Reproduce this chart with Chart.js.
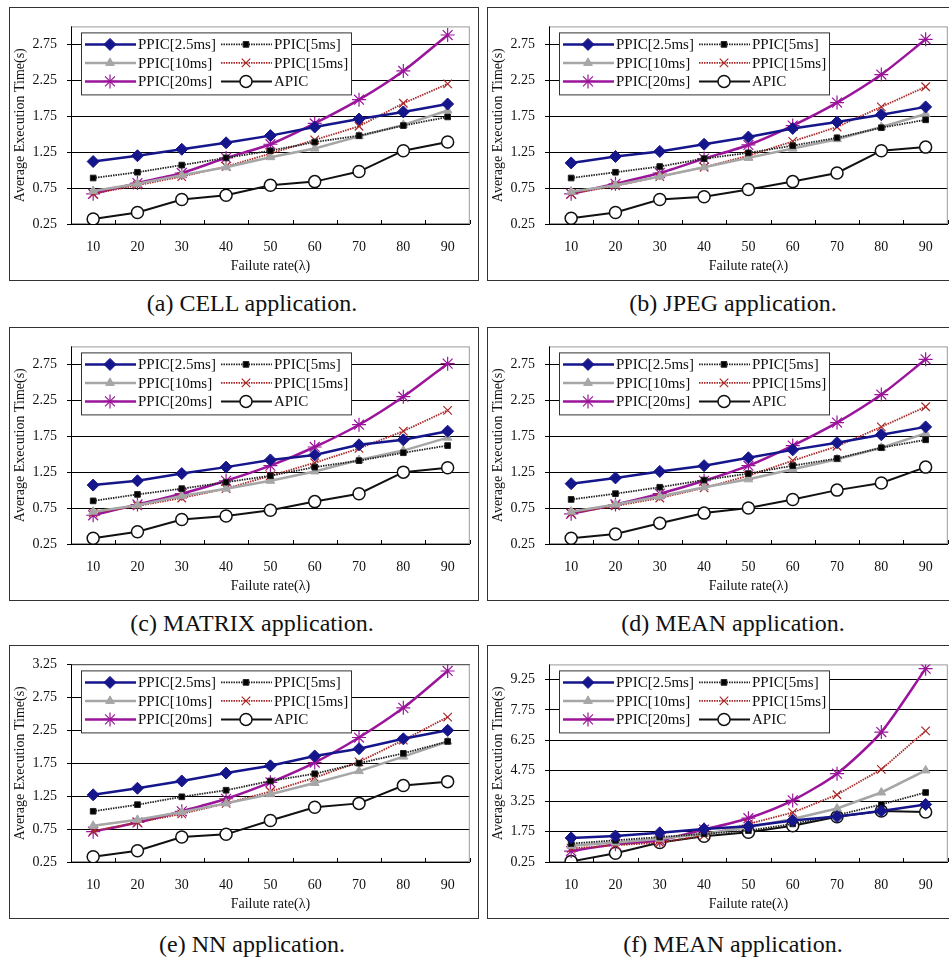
<!DOCTYPE html>
<html>
<head>
<meta charset="utf-8">
<script src="https://cdn.jsdelivr.net/npm/chart.js@4.4.1/dist/chart.umd.min.js"></script>
<style>
  body { margin: 0; background: #fff; width: 949px; height: 958px; overflow: hidden; position: relative; font-family: "Liberation Serif", serif; }
  .panel { position: absolute; border: 1px solid #333; box-sizing: border-box; width: 470px; height: 274px; background: #fff; }
  .panel canvas { position: absolute; left: 0; top: 0; }
  .cap { position: absolute; width: 480px; text-align: center; font-size: 24px; line-height: 24px; color: #111; white-space: nowrap; }
</style>
</head>
<body>
<script>
// categories and legend names
const categories = ["10", "20", "30", "40", "50", "60", "70", "80", "90"];
const seriesNames = ["PPIC[2.5ms]", "PPIC[5ms]", "PPIC[10ms]", "PPIC[15ms]", "PPIC[20ms]", "APIC"];

// y tick labels
const ticksLow = [0.25, 0.75, 1.25, 1.75, 2.25, 2.75];
const ticksNN = [0.25, 0.75, 1.25, 1.75, 2.25, 2.75, 3.25];
const ticksMean2 = [0.25, 1.75, 3.25, 4.75, 6.25, 7.75, 9.25];

// (a) CELL
const cell25 = [1.12, 1.2, 1.29, 1.38, 1.48, 1.6, 1.71, 1.81, 1.92];
const cell5 = [0.89, 0.97, 1.07, 1.17, 1.27, 1.39, 1.48, 1.62, 1.74];
const cell10 = [0.71, 0.81, 0.93, 1.04, 1.18, 1.3, 1.47, 1.63, 1.83];
const cell15 = [0.67, 0.79, 0.91, 1.05, 1.23, 1.42, 1.61, 1.93, 2.2];
const cell20 = [0.67, 0.82, 0.96, 1.17, 1.36, 1.65, 1.98, 2.38, 2.88];
const cellApic = [0.32, 0.41, 0.59, 0.65, 0.79, 0.84, 0.98, 1.27, 1.39];

// (b) JPEG
const jpeg25 = [1.1, 1.19, 1.26, 1.36, 1.46, 1.58, 1.67, 1.77, 1.88];
const jpeg5 = [0.89, 0.97, 1.05, 1.16, 1.24, 1.34, 1.45, 1.59, 1.7];
const jpeg10 = [0.7, 0.79, 0.91, 1.04, 1.17, 1.3, 1.43, 1.6, 1.78];
const jpeg15 = [0.67, 0.78, 0.91, 1.04, 1.2, 1.4, 1.6, 1.88, 2.16];
const jpeg20 = [0.67, 0.81, 0.96, 1.16, 1.35, 1.62, 1.94, 2.33, 2.82];
const jpegApic = [0.33, 0.41, 0.59, 0.63, 0.73, 0.84, 0.96, 1.27, 1.32];

// (c) MATRIX
const matrix25 = [1.07, 1.13, 1.23, 1.32, 1.42, 1.49, 1.63, 1.7, 1.82];
const matrix5 = [0.85, 0.94, 1.02, 1.11, 1.2, 1.32, 1.41, 1.52, 1.62];
const matrix10 = [0.7, 0.79, 0.92, 1.02, 1.13, 1.26, 1.42, 1.55, 1.73];
const matrix15 = [0.68, 0.78, 0.89, 1.02, 1.2, 1.38, 1.58, 1.82, 2.11];
const matrix20 = [0.65, 0.8, 0.95, 1.13, 1.34, 1.6, 1.91, 2.3, 2.76];
const matrixApic = [0.33, 0.42, 0.59, 0.64, 0.72, 0.84, 0.95, 1.25, 1.31];

// (d) MEAN
const mean25 = [1.09, 1.17, 1.26, 1.34, 1.45, 1.56, 1.66, 1.77, 1.88];
const mean5 = [0.87, 0.95, 1.04, 1.14, 1.23, 1.34, 1.44, 1.59, 1.7];
const mean10 = [0.7, 0.8, 0.91, 1.04, 1.15, 1.29, 1.43, 1.59, 1.79];
const mean15 = [0.68, 0.78, 0.89, 1.03, 1.2, 1.41, 1.61, 1.88, 2.16];
const mean20 = [0.67, 0.8, 0.95, 1.13, 1.34, 1.62, 1.94, 2.33, 2.82];
const meanApic = [0.33, 0.39, 0.54, 0.68, 0.75, 0.87, 1.0, 1.1, 1.32];

// (e) NN
const nn25 = [1.27, 1.37, 1.48, 1.6, 1.71, 1.86, 1.97, 2.12, 2.25];
const nn5 = [1.02, 1.12, 1.24, 1.34, 1.48, 1.59, 1.75, 1.9, 2.08];
const nn10 = [0.8, 0.89, 1.01, 1.14, 1.28, 1.45, 1.63, 1.85, 2.08];
const nn15 = [0.72, 0.85, 0.98, 1.14, 1.32, 1.53, 1.77, 2.1, 2.45];
const nn20 = [0.71, 0.85, 1.02, 1.21, 1.46, 1.76, 2.14, 2.59, 3.15];
const nnApic = [0.33, 0.42, 0.63, 0.67, 0.88, 1.08, 1.14, 1.41, 1.47];

// (f) MEAN
const meanB25 = [1.44, 1.53, 1.69, 1.88, 2.01, 2.3, 2.49, 2.77, 3.09];
const meanB5 = [1.16, 1.32, 1.48, 1.64, 1.8, 2.13, 2.56, 3.09, 3.68];
const meanB10 = [1.05, 1.21, 1.4, 1.64, 1.96, 2.37, 2.89, 3.68, 4.77];
const meanB15 = [0.92, 1.08, 1.2, 1.56, 2.13, 2.69, 3.57, 4.82, 6.72];
const meanB20 = [0.79, 1.12, 1.32, 1.85, 2.41, 3.29, 4.61, 6.66, 9.79];
const meanBApic = [0.28, 0.68, 1.21, 1.52, 1.72, 2.04, 2.48, 2.77, 2.72];

const FONT = "Liberation Serif";

const styles = [
  { color: "#16168c", width: 2.5, dash: [], point: "rectRot", r: 6, fill: "#16168c", bw: 1 },
  { color: "#222222", width: 1.8, dash: [1.5, 1], point: "rect", r: 4, fill: "#000000", bw: 1 },
  { color: "#a6a6a6", width: 2.5, dash: [], point: "triangle", r: 5, fill: "#a6a6a6", bw: 1 },
  { color: "#a82828", width: 1.8, dash: [1.5, 1], point: "crossRot", r: 6, fill: "#a82828", bw: 1.2 },
  { color: "#9b159b", width: 2.5, dash: [], point: "star", r: 7, fill: "#9b159b", bw: 1.2, tension: 0.25 },
  { color: "#111111", width: 2, dash: [], point: "circle", r: 6, fill: "#ffffff", bw: 1.5 }
];

const panels = [
  { left: 9, top: 7, cap: "(a) CELL application.", capX: 252, capY: 303, series: [cell25, cell5, cell10, cell15, cell20, cellApic], max: 3, ticks: ticksLow },
  { left: 487, top: 7, cap: "(b) JPEG application.", capX: 733, capY: 303, series: [jpeg25, jpeg5, jpeg10, jpeg15, jpeg20, jpegApic], max: 3, ticks: ticksLow },
  { left: 9, top: 327, cap: "(c) MATRIX application.", capX: 252, capY: 623, series: [matrix25, matrix5, matrix10, matrix15, matrix20, matrixApic], max: 3, ticks: ticksLow },
  { left: 487, top: 327, cap: "(d) MEAN application.", capX: 733, capY: 623, series: [mean25, mean5, mean10, mean15, mean20, meanApic], max: 3, ticks: ticksLow },
  { left: 9, top: 645, cap: "(e) NN application.", capX: 252, capY: 944, series: [nn25, nn5, nn10, nn15, nn20, nnApic], max: 3.25, ticks: ticksNN },
  { left: 487, top: 645, cap: "(f) MEAN application.", capX: 733, capY: 944, series: [meanB25, meanB5, meanB10, meanB15, meanB20, meanBApic], max: 10, ticks: ticksMean2 }
];

// plot frame: grey border, black axes, inward tick marks on x
const framePlugin = {
  id: "frame",
  beforeDatasetsDraw(chart) {
    const { ctx, chartArea: a, scales } = chart;
    ctx.save();
    ctx.strokeStyle = "#9a9a9a";
    ctx.lineWidth = 1;
    ctx.strokeRect(a.left + 0.5, a.top + 0.5, a.right - a.left - 1, a.bottom - a.top - 1);
    ctx.strokeStyle = "#000";
    ctx.beginPath();
    ctx.moveTo(a.left + 0.5, a.top);
    ctx.lineTo(a.left + 0.5, a.bottom + 0.5);
    ctx.lineTo(a.right, a.bottom + 0.5);
    for (let i = 0; i <= categories.length; i++) {
      const x = Math.round(scales.x.getPixelForValue(i - 0.5)) + 0.5;
      ctx.moveTo(x, a.bottom);
      ctx.lineTo(x, a.bottom - 4);
    }
    ctx.stroke();
    ctx.restore();
  }
};

// legend box drawn inside the plot area
const boxLegend = {
  id: "boxLegend",
  afterDraw(chart) {
    const { ctx, chartArea: a } = chart;
    const bx = a.left + 10, by = a.top + 6, bw = 270, bh = 62;
    ctx.save();
    ctx.fillStyle = "#fff";
    ctx.fillRect(bx, by, bw, bh);
    ctx.strokeStyle = "#333";
    ctx.lineWidth = 1;
    ctx.strokeRect(bx + 0.5, by + 0.5, bw, bh);
    const rows = [12, 30.5, 49];
    const cols = [4, 140];
    seriesNames.forEach((name, i) => {
      const s = styles[i];
      const x0 = bx + cols[i % 2];
      const y = by + rows[Math.floor(i / 2)];
      ctx.strokeStyle = s.color;
      ctx.lineWidth = s.width;
      ctx.setLineDash(s.dash);
      ctx.beginPath();
      ctx.moveTo(x0, y);
      ctx.lineTo(x0 + 51, y);
      ctx.stroke();
      ctx.setLineDash([]);
      ctx.fillStyle = s.fill;
      ctx.strokeStyle = i === 5 ? "#111" : s.color;
      ctx.lineWidth = s.bw;
      Chart.helpers.drawPoint(ctx, { pointStyle: s.point, radius: s.r, borderWidth: s.bw, rotation: 0 }, x0 + 25, y);
      ctx.fillStyle = "#111";
      ctx.font = "15px " + FONT;
      ctx.textBaseline = "middle";
      ctx.fillText(name, x0 + 53, y + 1);
    });
    ctx.restore();
  }
};

panels.forEach((p, idx) => {
  const div = document.createElement("div");
  div.className = "panel";
  div.style.left = p.left + "px";
  div.style.top = p.top + "px";
  const canvas = document.createElement("canvas");
  canvas.width = 468;
  canvas.height = 272;
  div.appendChild(canvas);
  document.body.appendChild(div);

  const cap = document.createElement("div");
  cap.className = "cap";
  cap.textContent = p.cap;
  cap.style.left = (p.capX - 240) + "px";
  cap.style.top = (p.capY - 12) + "px";
  document.body.appendChild(cap);

  new Chart(canvas, {
    type: "line",
    data: {
      labels: categories,
      datasets: p.series.map((vals, i) => ({
        label: seriesNames[i],
        data: vals,
        borderColor: styles[i].color,
        borderWidth: styles[i].width,
        borderDash: styles[i].dash,
        tension: styles[i].tension || 0,
        pointStyle: styles[i].point,
        pointRadius: styles[i].r,
        pointBackgroundColor: styles[i].fill,
        pointBorderColor: i === 5 ? "#111" : styles[i].color,
        pointBorderWidth: styles[i].bw,
        fill: false
      }))
    },
    options: {
      responsive: false,
      animation: false,
      layout: { padding: { left: 0, top: 13, right: 8, bottom: 0 } },
      plugins: { legend: { display: false }, tooltip: { enabled: false } },
      scales: {
        x: {
          offset: true,
          grid: { display: false, drawTicks: false },
          border: { display: false },
          ticks: { font: { family: FONT, size: 14 }, color: "#111", padding: 15, maxRotation: 0 },
          title: { display: true, text: "Failute rate(λ)", font: { family: FONT, size: 14 }, color: "#111", padding: { top: 0, bottom: 5 } },
          afterFit: s => { s.height = 56; }
        },
        y: {
          min: 0.25,
          max: p.max,
          afterBuildTicks: s => { s.ticks = p.ticks.map(v => ({ value: v })); },
          grid: { color: "#000", lineWidth: 1, tickLength: 4, drawTicks: true },
          border: { display: false },
          ticks: { font: { family: FONT, size: 14 }, color: "#111", padding: 10, callback: v => v.toFixed(2) },
          title: { display: true, text: "Average Execution Time(s)", font: { family: FONT, size: 14 }, color: "#111", padding: { top: 2, bottom: 0 } },
          afterFit: s => { s.width = 61; }
        }
      }
    },
    plugins: [framePlugin, boxLegend]
  });
});
</script>
</body>
</html>
